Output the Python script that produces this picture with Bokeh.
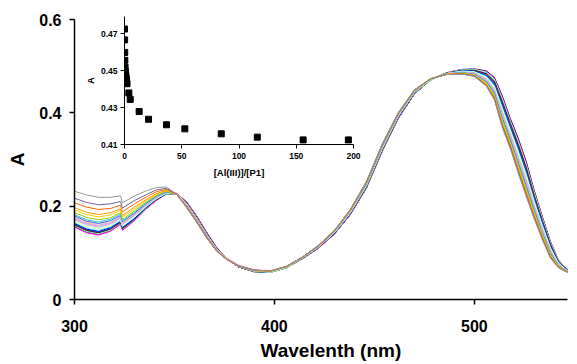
from bokeh.plotting import figure
from bokeh.models import Range1d, FixedTicker, Title
from bokeh.layouts import column
from bokeh.embed import file_html
from bokeh.resources import INLINE

# ---------------- data ----------------
wavelength = [300, 306, 312, 318, 323, 324, 330, 336, 341, 346, 351, 356, 361, 366, 371, 376, 382,
              390, 398, 406, 414, 422, 430, 438, 446, 454, 462, 470, 478, 486, 494, 500, 506, 510,
              514, 518, 522, 526, 530, 534, 538, 542, 546, 550]

s00 = [0.157, 0.145, 0.140, 0.148, 0.163, 0.150, 0.170, 0.195, 0.213, 0.226, 0.227, 0.210, 0.180, 0.145, 0.112, 0.089, 0.070, 0.059, 0.058, 0.068, 0.087, 0.110, 0.140, 0.182, 0.238, 0.318, 0.388, 0.440, 0.470, 0.486, 0.493, 0.494, 0.490, 0.476, 0.436, 0.388, 0.345, 0.295, 0.233, 0.178, 0.125, 0.085, 0.066, 0.060]
s01 = [0.155, 0.143, 0.138, 0.146, 0.161, 0.148, 0.169, 0.194, 0.212, 0.226, 0.227, 0.209, 0.179, 0.144, 0.112, 0.089, 0.070, 0.059, 0.058, 0.068, 0.087, 0.110, 0.140, 0.182, 0.239, 0.319, 0.389, 0.440, 0.470, 0.486, 0.493, 0.493, 0.489, 0.474, 0.433, 0.385, 0.342, 0.292, 0.230, 0.176, 0.123, 0.084, 0.066, 0.060]
s02 = [0.158, 0.146, 0.141, 0.149, 0.164, 0.151, 0.171, 0.195, 0.213, 0.226, 0.227, 0.209, 0.179, 0.144, 0.111, 0.089, 0.070, 0.059, 0.058, 0.068, 0.087, 0.111, 0.141, 0.183, 0.239, 0.319, 0.389, 0.441, 0.470, 0.486, 0.492, 0.493, 0.487, 0.472, 0.430, 0.382, 0.338, 0.288, 0.228, 0.174, 0.122, 0.084, 0.065, 0.060]
s03 = [0.159, 0.147, 0.142, 0.150, 0.165, 0.152, 0.171, 0.196, 0.214, 0.226, 0.227, 0.208, 0.178, 0.143, 0.111, 0.089, 0.070, 0.060, 0.058, 0.068, 0.088, 0.111, 0.141, 0.183, 0.240, 0.320, 0.390, 0.441, 0.470, 0.485, 0.492, 0.492, 0.486, 0.470, 0.427, 0.380, 0.335, 0.285, 0.225, 0.172, 0.120, 0.083, 0.065, 0.059]
s04 = [0.160, 0.148, 0.143, 0.151, 0.165, 0.152, 0.172, 0.197, 0.214, 0.227, 0.227, 0.208, 0.178, 0.143, 0.111, 0.088, 0.070, 0.060, 0.059, 0.069, 0.088, 0.111, 0.141, 0.184, 0.241, 0.321, 0.390, 0.442, 0.471, 0.485, 0.491, 0.491, 0.484, 0.468, 0.424, 0.377, 0.332, 0.282, 0.222, 0.169, 0.119, 0.082, 0.065, 0.059]
s05 = [0.161, 0.149, 0.144, 0.152, 0.166, 0.153, 0.173, 0.197, 0.214, 0.227, 0.227, 0.207, 0.177, 0.142, 0.110, 0.088, 0.070, 0.060, 0.059, 0.069, 0.088, 0.111, 0.142, 0.184, 0.241, 0.321, 0.391, 0.442, 0.471, 0.485, 0.491, 0.491, 0.483, 0.466, 0.421, 0.374, 0.329, 0.279, 0.220, 0.167, 0.117, 0.081, 0.064, 0.059]
s06 = [0.162, 0.150, 0.145, 0.153, 0.167, 0.154, 0.173, 0.198, 0.215, 0.227, 0.227, 0.207, 0.176, 0.142, 0.110, 0.088, 0.071, 0.060, 0.059, 0.069, 0.088, 0.112, 0.142, 0.185, 0.242, 0.322, 0.391, 0.442, 0.471, 0.485, 0.490, 0.490, 0.481, 0.463, 0.418, 0.371, 0.325, 0.275, 0.217, 0.165, 0.116, 0.081, 0.064, 0.059]
s07 = [0.163, 0.151, 0.146, 0.154, 0.168, 0.155, 0.174, 0.198, 0.215, 0.227, 0.227, 0.206, 0.176, 0.141, 0.110, 0.088, 0.071, 0.060, 0.059, 0.069, 0.088, 0.112, 0.142, 0.185, 0.243, 0.323, 0.392, 0.443, 0.471, 0.485, 0.490, 0.489, 0.480, 0.461, 0.415, 0.368, 0.322, 0.272, 0.214, 0.163, 0.114, 0.080, 0.064, 0.058]
s08 = [0.165, 0.153, 0.148, 0.156, 0.169, 0.156, 0.176, 0.199, 0.216, 0.228, 0.227, 0.205, 0.175, 0.140, 0.109, 0.088, 0.071, 0.060, 0.059, 0.069, 0.088, 0.112, 0.143, 0.186, 0.243, 0.324, 0.393, 0.443, 0.471, 0.485, 0.490, 0.488, 0.479, 0.459, 0.412, 0.365, 0.319, 0.269, 0.212, 0.161, 0.112, 0.079, 0.064, 0.058]
s09 = [0.166, 0.154, 0.149, 0.157, 0.170, 0.157, 0.176, 0.200, 0.216, 0.228, 0.227, 0.205, 0.175, 0.140, 0.109, 0.088, 0.071, 0.061, 0.059, 0.069, 0.089, 0.112, 0.143, 0.186, 0.244, 0.324, 0.393, 0.444, 0.471, 0.484, 0.489, 0.488, 0.477, 0.457, 0.409, 0.363, 0.316, 0.266, 0.209, 0.158, 0.111, 0.078, 0.063, 0.058]
s10 = [0.168, 0.157, 0.152, 0.158, 0.172, 0.158, 0.178, 0.201, 0.217, 0.228, 0.227, 0.204, 0.174, 0.139, 0.109, 0.088, 0.071, 0.061, 0.059, 0.069, 0.089, 0.113, 0.143, 0.187, 0.245, 0.325, 0.394, 0.444, 0.471, 0.484, 0.489, 0.487, 0.476, 0.455, 0.406, 0.360, 0.312, 0.262, 0.206, 0.156, 0.109, 0.078, 0.063, 0.058]
s11 = [0.169, 0.158, 0.153, 0.159, 0.172, 0.159, 0.178, 0.201, 0.217, 0.228, 0.227, 0.204, 0.173, 0.139, 0.108, 0.088, 0.071, 0.061, 0.059, 0.069, 0.089, 0.113, 0.144, 0.187, 0.245, 0.326, 0.394, 0.444, 0.471, 0.484, 0.488, 0.486, 0.474, 0.453, 0.403, 0.357, 0.309, 0.259, 0.204, 0.154, 0.108, 0.077, 0.063, 0.058]
s12 = [0.171, 0.160, 0.155, 0.161, 0.174, 0.161, 0.180, 0.202, 0.218, 0.229, 0.227, 0.203, 0.173, 0.138, 0.108, 0.087, 0.071, 0.061, 0.060, 0.070, 0.089, 0.113, 0.144, 0.188, 0.246, 0.326, 0.395, 0.445, 0.472, 0.484, 0.488, 0.486, 0.473, 0.451, 0.401, 0.354, 0.306, 0.256, 0.201, 0.152, 0.106, 0.076, 0.062, 0.057]
s13 = [0.173, 0.162, 0.157, 0.163, 0.176, 0.162, 0.181, 0.203, 0.219, 0.230, 0.229, 0.206, 0.175, 0.140, 0.109, 0.090, 0.074, 0.064, 0.062, 0.071, 0.090, 0.113, 0.145, 0.188, 0.246, 0.327, 0.395, 0.445, 0.472, 0.484, 0.487, 0.485, 0.471, 0.449, 0.398, 0.351, 0.303, 0.253, 0.199, 0.150, 0.105, 0.075, 0.062, 0.057]
s14 = [0.175, 0.164, 0.159, 0.165, 0.177, 0.164, 0.182, 0.204, 0.219, 0.230, 0.226, 0.202, 0.171, 0.137, 0.107, 0.087, 0.071, 0.061, 0.060, 0.070, 0.089, 0.114, 0.145, 0.189, 0.247, 0.328, 0.396, 0.445, 0.472, 0.484, 0.487, 0.484, 0.470, 0.447, 0.395, 0.348, 0.299, 0.249, 0.196, 0.148, 0.103, 0.075, 0.062, 0.057]
s15 = [0.177, 0.166, 0.161, 0.167, 0.179, 0.165, 0.184, 0.205, 0.220, 0.230, 0.226, 0.202, 0.171, 0.137, 0.107, 0.087, 0.071, 0.062, 0.060, 0.070, 0.090, 0.114, 0.145, 0.189, 0.248, 0.328, 0.396, 0.446, 0.472, 0.483, 0.486, 0.484, 0.468, 0.445, 0.392, 0.346, 0.296, 0.246, 0.193, 0.145, 0.102, 0.074, 0.061, 0.057]
s16 = [0.179, 0.168, 0.163, 0.169, 0.180, 0.167, 0.185, 0.206, 0.221, 0.230, 0.226, 0.201, 0.170, 0.136, 0.106, 0.087, 0.071, 0.062, 0.060, 0.070, 0.090, 0.114, 0.146, 0.190, 0.248, 0.329, 0.397, 0.446, 0.472, 0.483, 0.486, 0.483, 0.467, 0.443, 0.389, 0.343, 0.293, 0.243, 0.191, 0.143, 0.100, 0.073, 0.061, 0.057]
s17 = [0.182, 0.171, 0.166, 0.172, 0.183, 0.169, 0.187, 0.208, 0.222, 0.231, 0.226, 0.200, 0.170, 0.135, 0.106, 0.087, 0.071, 0.062, 0.060, 0.070, 0.090, 0.114, 0.146, 0.190, 0.249, 0.330, 0.398, 0.447, 0.472, 0.483, 0.486, 0.482, 0.466, 0.441, 0.386, 0.340, 0.290, 0.240, 0.188, 0.141, 0.098, 0.072, 0.061, 0.056]
s18 = [0.186, 0.176, 0.171, 0.175, 0.186, 0.172, 0.190, 0.210, 0.223, 0.232, 0.226, 0.200, 0.169, 0.135, 0.106, 0.087, 0.072, 0.062, 0.060, 0.070, 0.090, 0.115, 0.146, 0.191, 0.250, 0.331, 0.398, 0.447, 0.472, 0.483, 0.485, 0.481, 0.464, 0.438, 0.383, 0.337, 0.286, 0.236, 0.185, 0.139, 0.097, 0.072, 0.061, 0.056]
s19 = [0.192, 0.182, 0.177, 0.181, 0.191, 0.177, 0.194, 0.213, 0.226, 0.233, 0.226, 0.199, 0.168, 0.134, 0.105, 0.087, 0.072, 0.062, 0.060, 0.070, 0.090, 0.115, 0.147, 0.191, 0.250, 0.331, 0.399, 0.447, 0.472, 0.483, 0.485, 0.481, 0.463, 0.436, 0.380, 0.334, 0.283, 0.233, 0.183, 0.137, 0.095, 0.071, 0.060, 0.056]
s20 = [0.197, 0.187, 0.182, 0.186, 0.194, 0.180, 0.198, 0.215, 0.227, 0.234, 0.226, 0.199, 0.168, 0.134, 0.105, 0.086, 0.072, 0.062, 0.061, 0.071, 0.090, 0.115, 0.147, 0.192, 0.251, 0.332, 0.399, 0.448, 0.473, 0.483, 0.484, 0.480, 0.461, 0.434, 0.377, 0.331, 0.280, 0.230, 0.180, 0.135, 0.094, 0.070, 0.060, 0.056]
s21 = [0.207, 0.198, 0.193, 0.195, 0.202, 0.188, 0.205, 0.220, 0.231, 0.236, 0.226, 0.198, 0.167, 0.133, 0.105, 0.086, 0.072, 0.063, 0.061, 0.071, 0.091, 0.115, 0.147, 0.192, 0.252, 0.333, 0.400, 0.448, 0.473, 0.482, 0.484, 0.479, 0.460, 0.432, 0.374, 0.329, 0.277, 0.227, 0.177, 0.132, 0.092, 0.069, 0.060, 0.055]
s22 = [0.217, 0.208, 0.203, 0.205, 0.210, 0.196, 0.212, 0.225, 0.235, 0.238, 0.226, 0.198, 0.167, 0.133, 0.104, 0.086, 0.072, 0.063, 0.061, 0.071, 0.091, 0.116, 0.148, 0.193, 0.252, 0.333, 0.400, 0.449, 0.473, 0.482, 0.483, 0.479, 0.458, 0.430, 0.371, 0.326, 0.273, 0.223, 0.175, 0.130, 0.091, 0.069, 0.059, 0.055]
s23 = [0.232, 0.224, 0.219, 0.219, 0.222, 0.207, 0.222, 0.233, 0.240, 0.241, 0.226, 0.197, 0.166, 0.132, 0.104, 0.086, 0.072, 0.063, 0.061, 0.071, 0.091, 0.116, 0.148, 0.193, 0.253, 0.334, 0.401, 0.449, 0.473, 0.482, 0.483, 0.478, 0.457, 0.428, 0.368, 0.323, 0.270, 0.220, 0.172, 0.128, 0.089, 0.068, 0.059, 0.055]

spectra = [s00, s01, s02, s03, s04, s05, s06, s07, s08, s09, s10, s11,
           s12, s13, s14, s15, s16, s17, s18, s19, s20, s21, s22, s23]
colors = ["#000080", "#FF00FF", "#FFFF00", "#00FFFF", "#800080", "#800000", "#008080", "#0000FF",
          "#00CCFF", "#CCFFFF", "#CCFFCC", "#FFFF99", "#99CCFF", "#FF99CC", "#CC99FF", "#FFCC99",
          "#3366FF", "#33CCCC", "#99CC00", "#FFCC00", "#FF9900", "#FF6600", "#666699", "#969696"]

ratio = [0, 0.1, 0.2, 0.3, 0.5, 0.7, 0.9, 1.1, 1.3, 1.5, 1.8, 2.2, 3.8, 5.0, 12.8, 21, 36.7, 52.7,
         84.5, 116, 156, 195.5]
inset_abs = [0.4727, 0.4668, 0.4600, 0.4557, 0.4520, 0.4497, 0.4485, 0.4475, 0.4465, 0.4455, 0.4445,
             0.4430, 0.4380, 0.4345, 0.4279, 0.4237, 0.4207, 0.4185, 0.4158, 0.4140, 0.4125, 0.4125]

main_xticks = [300, 400, 500]
main_yticks = [0, 0.2, 0.4, 0.6]
main_ylabels = {0: "0", 0.2: "0.2", 0.4: "0.4", 0.6: "0.6"}
inset_xticks = [0, 50, 100, 150, 200]
inset_yticks = [0.41, 0.43, 0.45, 0.47]

FONT = "Liberation Sans"

# ---------------- main plot ----------------
p = figure(width=577, height=364, x_range=Range1d(300, 546.6), y_range=Range1d(0, 0.6),
           output_backend="svg", toolbar_location=None,
           min_border_left=74, min_border_right=0, min_border_top=19, min_border_bottom=64)
p.outline_line_color = None
p.grid.visible = False
p.background_fill_color = None
p.border_fill_color = "white"

for ys, c in zip(spectra, colors):
    p.line(wavelength, ys, line_color=c, line_width=1)

for ax in (p.xaxis[0], p.yaxis[0]):
    ax.axis_line_width = 1.5
    ax.major_tick_line_width = 1.5
    ax.major_tick_out = 5
    ax.major_tick_in = 0
    ax.minor_tick_line_color = None
    ax.major_label_text_font = FONT
    ax.major_label_text_font_style = "bold"
    ax.major_label_text_font_size = "16px"
    ax.major_label_text_color = "black"
    ax.axis_label_text_font = FONT
    ax.axis_label_text_font_style = "bold"
    ax.axis_label_text_font_size = "19px"
    ax.axis_label_text_color = "black"

p.xaxis.ticker = FixedTicker(ticks=main_xticks)
p.yaxis.ticker = FixedTicker(ticks=main_yticks)
p.yaxis.major_label_overrides = main_ylabels
p.xaxis.major_label_standoff = 15
p.yaxis.major_label_standoff = 8
p.yaxis.axis_label = "A"
p.yaxis.axis_label_standoff = 8

xtitle = Title(text="Wavelenth (nm)", align="left", offset=186, standoff=7,
               text_font=FONT, text_font_style="bold", text_font_size="19px", text_color="black")
p.add_layout(xtitle, "below")

# ---------------- inset ----------------
inset = figure(width=313, height=184, x_range=Range1d(0, 200), y_range=Range1d(0.41, 0.4795),
               output_backend="svg", toolbar_location=None,
               min_border_left=74, min_border_right=10, min_border_top=16, min_border_bottom=40)
inset.outline_line_color = None
inset.grid.visible = False
inset.background_fill_color = None
inset.border_fill_color = None
inset.scatter(ratio, inset_abs, marker="square", size=6, fill_color="black", line_color="black")

for ax in (inset.xaxis[0], inset.yaxis[0]):
    ax.axis_line_width = 1
    ax.major_tick_line_width = 1
    ax.major_tick_out = 4
    ax.major_tick_in = 0
    ax.minor_tick_line_color = None
    ax.major_label_text_font = FONT
    ax.major_label_text_font_style = "bold"
    ax.major_label_text_font_size = "8.5px"
    ax.major_label_text_color = "black"
    ax.axis_label_text_font = FONT
    ax.axis_label_text_font_style = "bold"
    ax.axis_label_text_font_size = "9.5px"
    ax.axis_label_text_color = "black"

inset.xaxis.ticker = FixedTicker(ticks=inset_xticks)
inset.yaxis.ticker = FixedTicker(ticks=inset_yticks)
inset.xaxis.major_label_standoff = 4
inset.yaxis.major_label_standoff = 3
inset.xaxis.axis_label = "[Al(III)]/[P1]"
inset.xaxis.axis_label_standoff = 5
inset.yaxis.axis_label = "A"
inset.yaxis.axis_label_standoff = 2
inset.styles = {"position": "absolute", "left": "50px", "top": "0px", "z-index": "5"}

root = column(p, inset, width=577, height=364)
open("out.html", "w").write(file_html(root, INLINE))
